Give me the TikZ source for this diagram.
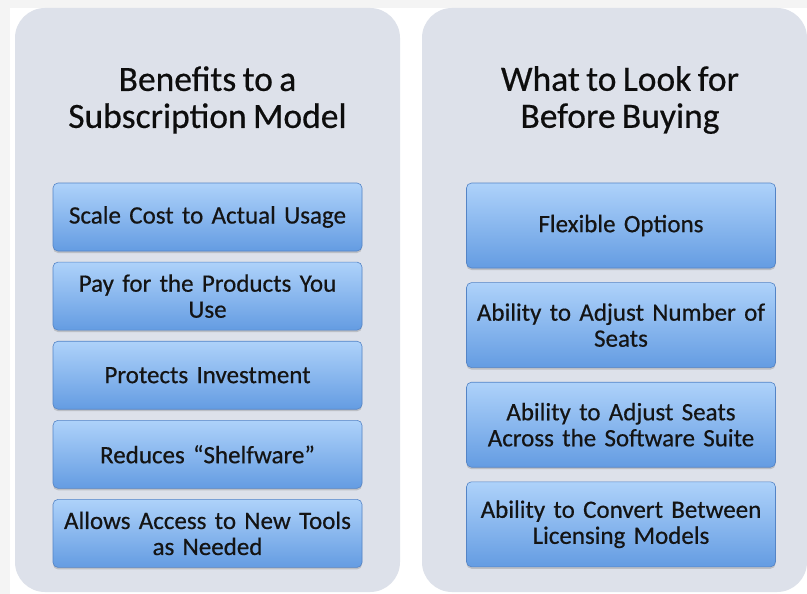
\documentclass[tikz,border=0pt]{standalone}
\usepackage{fontspec}
\setmainfont[FakeBold=0.5, WordSpace=0.8]{Carlito}
\usetikzlibrary{positioning,shadows}
\definecolor{pagegray}{RGB}{244,244,244}
\definecolor{panelgray}{RGB}{221,225,234}
\definecolor{itemtop}{RGB}{174,210,250}
\definecolor{itembottom}{RGB}{100,156,226}
\definecolor{itemedge}{RGB}{84,132,198}
\tikzset{/sub/panel/.style={rectangle, rounded corners=30pt, fill=panelgray, minimum width=385pt, minimum height=584pt, inner sep=0pt
}}
\tikzset{/sub/title/.style={align=center, text=black!95, font=\fontsize{35.5}{37}\selectfont
}}
\tikzset{/sub/item/.style={
rectangle, rounded corners=5pt, draw=itemedge, line width=0.6pt, top color=itemtop, bottom color=itembottom, drop shadow={opacity=0.35, shadow xshift=0pt, shadow yshift=-2pt}, align=center, text width=300pt, inner xsep=4.5pt, inner ysep=2pt, text=black!92, font=\fontsize{25}{26}\selectfont
}}
\tikzset{/sub/item/left/.style={/sub/item, minimum height=68pt}}
\tikzset{/sub/item/right/.style={/sub/item, minimum height=85pt}}

\begin{document}
\begin{tikzpicture}[x=1pt, y=-1pt]
		\useasboundingbox (0,0) rectangle (807,594);
		\fill[white] (0,0) rectangle (807,594);
		\fill[pagegray] (0,0) rectangle (807,8);
		\fill[pagegray] (0,0) rectangle (10,594);
		\node[/sub/panel] (leftpanel) at (207.5,300) {};
		\node[/sub/panel] (rightpanel) at (614.5,300) {};
		\node[/sub/title] (lefttitle) at (207.5,100) {Benefits to a\\Subscription Model};
		\node[/sub/title] (righttitle) at (620,100) {What to Look for\\Before Buying};
		\begin{scope}[node distance=10.5pt]
			\node[/sub/item/left] (scale) at (207.5,217) {Scale Cost to Actual Usage};
			\node[/sub/item/left, below=of scale] (pay) {Pay for the Products You\\Use};
			\node[/sub/item/left, below=of pay] (protect) {Protects Investment};
			\node[/sub/item/left, below=of protect] (shelf) {Reduces ``Shelfware''};
			\node[/sub/item/left, below=of shelf] (access) {Allows Access to New Tools\\as Needed};
		\end{scope}
		\begin{scope}[node distance=14pt]
			\node[/sub/item/right] (flexible) at (621,225.5) {Flexible Options};
			\node[/sub/item/right, below=of flexible] (number) {Ability to Adjust Number of\\Seats};
			\node[/sub/item/right, below=of number] (suite) {Ability to Adjust Seats\\Across the Software Suite};
			\node[/sub/item/right, below=of suite] (convert) {Ability to Convert Between\\Licensing Models};
		\end{scope}
	\end{tikzpicture}
\end{document}
